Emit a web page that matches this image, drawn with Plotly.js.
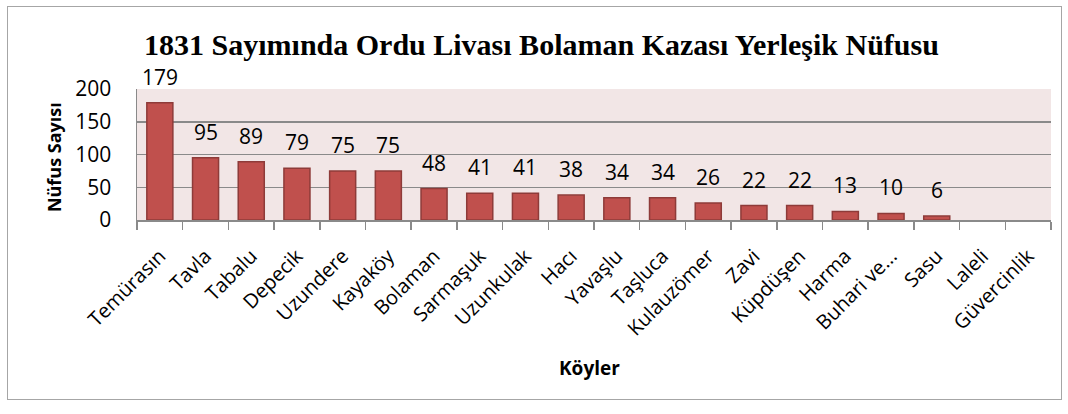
<!DOCTYPE html>
<html>
<head>
<meta charset="utf-8">
<script src="https://cdn.plot.ly/plotly-3.0.1.min.js"></script>
<style>
html,body{margin:0;padding:0;background:#fff;}
#wrap{position:relative;width:1068px;height:414px;}
#chart{position:absolute;left:0;top:0;width:1068px;height:414px;}
#frame{position:absolute;left:7px;top:6px;width:1053px;height:392px;border:1.5px solid #a6a6a6;pointer-events:none;}
</style>
</head>
<body>
<div id="wrap"><div id="chart"></div><div id="frame"></div></div>
<script>
const villages = ["Temürasın","Tavla","Tabalu","Depecik","Uzundere","Kayaköy","Bolaman","Sarmaşuk","Uzunkulak","Hacı","Yavaşlu","Taşluca","Kulauzömer","Zavi","Küpdüşen","Harma","Buhari ve...","Sasu","Laleli","Güvercinlik"];
const population = [179,95,89,79,75,75,48,41,41,38,34,34,26,22,22,13,10,6,null,null];
const yTicks = [0,50,100,150,200];

const labelFont = "'Open Sans', Lato, sans-serif";

const annotations = [];
villages.forEach((v,i)=>{
  if (population[i] !== null) {
    annotations.push({x:v, y:population[i], xref:'x', yref:'y', text:String(population[i]),
      showarrow:false, yanchor:'bottom', yshift:10, font:{family:labelFont,size:21,color:'#000'}});
  }
});
annotations.push({x:0.495, y:0, xref:'paper', yref:'paper', yshift:-148, text:'<b>Köyler</b>',
  showarrow:false, yanchor:'middle', font:{family:labelFont,size:19,color:'#000'}});
annotations.push({x:0, y:0.48, xref:'paper', yref:'paper', xshift:-83, text:'<b>Nüfus Sayısı</b>',
  textangle:-90, showarrow:false, xanchor:'center', yanchor:'middle', font:{family:labelFont,size:18,color:'#000'}});

const trace = {
  type:'bar', x:villages, y:population,
  marker:{color:'#C0504D', line:{color:'#8E3B39', width:1.5}},
  hoverinfo:'x+y'
};

const layout = {
  width:1068, height:414,
  margin:{l:137, r:17, t:89, b:194},
  paper_bgcolor:'rgba(0,0,0,0)',
  plot_bgcolor:'#F2E6E6',
  bargap:0.43,
  showlegend:false,
  title:{text:'<b>1831 Sayımında Ordu Livası Bolaman Kazası Yerleşik Nüfusu</b>',
    font:{family:"'Liberation Serif', 'Times New Roman', serif", size:30, color:'#000'},
    x:0.507, xanchor:'center', y:0.893, yanchor:'middle'},
  xaxis:{type:'category', tickangle:-45, tickson:'boundaries', ticks:'outside', ticklen:8,
    ticklabelstandoff:15,
    tickcolor:'#8a8a8a', tickwidth:1.5, showline:true, linecolor:'#8a8a8a', linewidth:1.5,
    tickfont:{family:labelFont,size:20,color:'#000'}, showgrid:false, fixedrange:true},
  yaxis:{range:[0,200], tickvals:yTicks, ticks:'outside', ticklen:20, tickcolor:'rgba(0,0,0,0)',
    showline:true, linecolor:'#8a8a8a', linewidth:1.5, gridcolor:'#8a8a8a', gridwidth:1.5,
    zeroline:false, tickfont:{family:labelFont,size:21,color:'#000'},
    fixedrange:true},
  annotations:annotations
};

Plotly.newPlot('chart',[trace],layout,{displayModeBar:false,staticPlot:true});
</script>
</body>
</html>
